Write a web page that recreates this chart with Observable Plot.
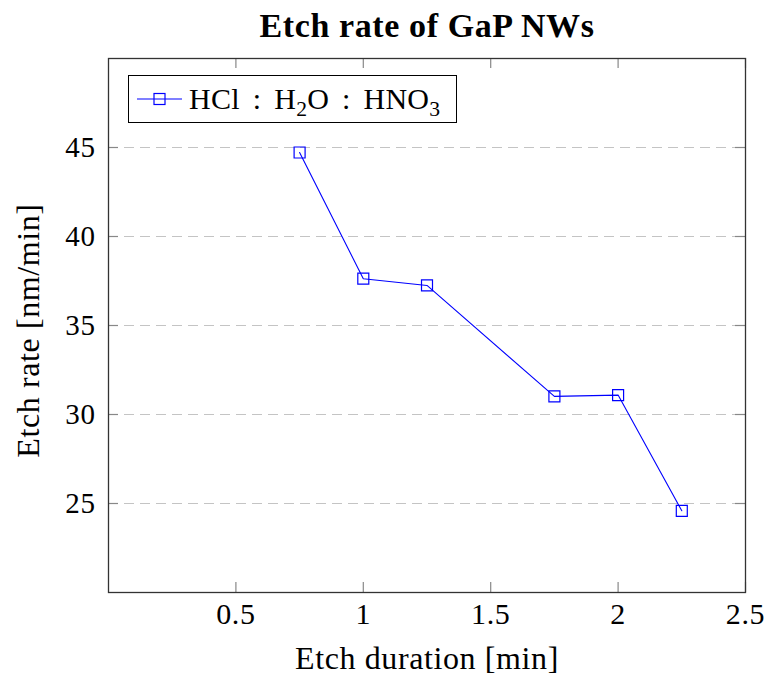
<!DOCTYPE html>
<html>
<head>
<meta charset="utf-8">
<script src="https://cdn.jsdelivr.net/npm/d3@7"></script>
<script src="https://cdn.jsdelivr.net/npm/@observablehq/plot@0.6"></script>
<style>
  html, body { margin: 0; padding: 0; background: white; }
  #wrap { position: relative; width: 766px; height: 675px; font-family: "Liberation Serif", serif; }
  #wrap svg text { letter-spacing: 0.6px; }
  #legend {
    position: absolute; left: 128px; top: 75px; width: 327px; height: 46px;
    border: 1px solid #000; background: white; box-sizing: content-box;
    display: flex; align-items: center; font-size: 30px; color: #000; white-space: nowrap;
  }
  #legend svg { margin-left: 8px; margin-right: 6px; flex: none; }
  #legend span { word-spacing: 5px; letter-spacing: 0.3px; }
  #legend sub { font-size: 0.72em; vertical-align: -0.32em; line-height: 0; }
</style>
</head>
<body>
<div id="wrap"></div>
<script>
const durations = [0.75, 1, 1.25, 1.75, 2, 2.25];
const rates = [44.72, 37.63, 37.25, 31.02, 31.09, 24.59];
const xTicks = [0.5, 1, 1.5, 2, 2.5];
const yTicks = [25, 30, 35, 40, 45];
const title = "Etch rate of GaP NWs";
const xLabel = "Etch duration [min]";
const yLabel = "Etch rate [nm/min]";

const data = durations.map((d, i) => ({x: d, y: rates[i]}));

const W = 766, H = 675, ML = 108, MR = 21, MT = 58, MB = 83;
const FW = W - ML - MR, FH = H - MT - MB, TL = 10;

const chart = Plot.plot({
  width: W, height: H,
  marginLeft: ML, marginRight: MR, marginTop: MT, marginBottom: MB,
  x: {domain: [0, 2.5]},
  y: {domain: [20, 50]},
  style: {fontFamily: "Liberation Serif, serif", fontSize: "29px", background: "white", color: "#000", overflow: "visible"},
  marks: [
    Plot.ruleY(yTicks, {stroke: "#c4c4c4", strokeWidth: 1.2, strokeDasharray: "10,6"}),
    // inward ticks
    Plot.ruleX(xTicks, {insetTop: FH - TL, stroke: "#888", strokeWidth: 1.2}),
    Plot.ruleX(xTicks, {insetBottom: FH - TL, stroke: "#888", strokeWidth: 1.2}),
    Plot.ruleY(yTicks, {insetRight: FW - TL, stroke: "#888", strokeWidth: 1.2}),
    Plot.ruleY(yTicks, {insetLeft: FW - TL, stroke: "#888", strokeWidth: 1.2}),
    Plot.frame({stroke: "#333", strokeWidth: 1.3}),
    Plot.axisX({ticks: xTicks, tickSize: 0, tickPadding: 10, tickFormat: d => String(d), label: null, fontSize: 30}),
    Plot.axisY({ticks: yTicks, tickSize: 0, tickPadding: 13, tickFormat: d => String(d), label: null, fontSize: 29}),
    Plot.line(data, {x: "x", y: "y", stroke: "#0000ff", strokeWidth: 1.1}),
    Plot.dot(data, {x: "x", y: "y", symbol: "square", r: 6.2, stroke: "#0000ff", fill: "none", strokeWidth: 1.2}),
    Plot.text([title], {frameAnchor: "top", lineAnchor: "middle", textAnchor: "middle", dy: -32, fontSize: 34, fontWeight: "bold", fill: "#000", style: "letter-spacing:1.2px"}),
    Plot.text([xLabel], {frameAnchor: "bottom", lineAnchor: "middle", textAnchor: "middle", dy: 66, fontSize: 32, fill: "#000"}),
    Plot.text([yLabel], {frameAnchor: "left", lineAnchor: "middle", textAnchor: "middle", dx: -80, dy: 5, rotate: -90, fontSize: 32, fill: "#000"})
  ]
});

const wrap = document.getElementById("wrap");
wrap.appendChild(chart);

const legend = document.createElement("div");
legend.id = "legend";
legend.innerHTML = `<svg width="46" height="20" viewBox="0 0 46 20"><line x1="0" y1="10" x2="45" y2="10" stroke="#0000ff" stroke-width="1.1"/><rect x="17" y="4.5" width="11" height="11" fill="none" stroke="#0000ff" stroke-width="1.2"/></svg><span>HCl : H<sub>2</sub>O : HNO<sub>3</sub></span>`;
wrap.appendChild(legend);
</script>
</body>
</html>
